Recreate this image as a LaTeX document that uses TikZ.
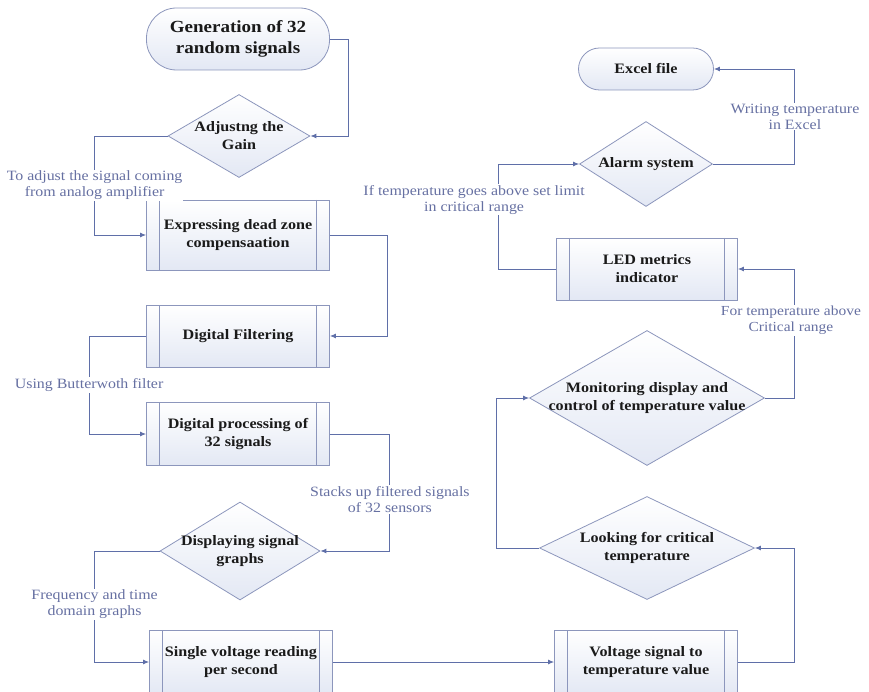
\documentclass[tikz,border=0pt]{standalone}
\usepackage{fontspec}
\setmainfont{Liberation Serif}[FakeStretch=1.12]
\usetikzlibrary{shapes.geometric,arrows.meta}
\definecolor{linec}{HTML}{5F6FA8}
\definecolor{lblc}{HTML}{6670A2}
\definecolor{bordc}{HTML}{8C96BC}
\definecolor{fillc}{HTML}{E3E8F4}
\definecolor{txtc}{HTML}{1A1A1A}
\tikzset{
  base/.style={draw=bordc, line width=0.8pt, top color=white, bottom color=fillc, text=txtc,
    font=\fontsize{14.4}{18}\selectfont\bfseries, align=center, inner sep=0pt},
  term/.style={base, rounded corners=#1},
  procbox/.style={base, minimum width=183pt, minimum height=63pt,
    path picture={
      \draw[bordc, line width=0.8pt] ([xshift=13pt]path picture bounding box.north west) -- ([xshift=13pt]path picture bounding box.south west);
      \draw[bordc, line width=0.8pt] ([xshift=-13pt]path picture bounding box.north east) -- ([xshift=-13pt]path picture bounding box.south east);
    }},
  decis/.style={base, diamond, shape aspect=1.6, inner sep=-14pt},
  conn/.style={draw=linec, line width=0.9pt, -{Latex[length=6pt,width=5pt]}},
  lbl/.style={fill=white, text=lblc, font=\fontsize{14.2}{16}\selectfont, align=center, inner sep=1pt}
}
\begin{document}
\begin{tikzpicture}[x=1pt,y=-1pt]
\useasboundingbox (0,0) rectangle (869,692);
% nodes
\node[term=30pt, minimum width=183pt, minimum height=62pt, font=\fontsize{17}{21}\selectfont\bfseries] (start) at (238,39) {Generation of 32\\random signals};
\node[term=21pt, minimum width=135pt, minimum height=42pt] (excel) at (646,69) {Excel file};
\node[decis, minimum width=142pt, minimum height=83pt] (adj) at (239,136) {Adjustng the\\Gain};
\node[procbox, minimum height=70pt] (dead) at (238,235) {Expressing dead zone\\compensaation};
\node[procbox, minimum height=62pt] (filt) at (238,336) {Digital Filtering};
\node[procbox] (proc) at (238,434) {Digital processing of\\32 signals};
\node[decis, minimum width=160pt, minimum height=98pt] (disp) at (240,551) {Displaying signal\\graphs};
\node[procbox, minimum height=64pt] (single) at (241,662) {Single voltage reading\\per second};
\node[procbox, minimum height=64pt] (volt) at (646,662) {Voltage signal to\\temperature value};
\node[decis, minimum width=215pt, minimum height=103pt] (look) at (647,548) {Looking for critical\\temperature};
\node[decis, minimum width=235pt, minimum height=135pt] (mon) at (647,398) {Monitoring display and\\control of temperature value};
\node[procbox, minimum width=181pt, minimum height=62pt] (led) at (647,269) {LED metrics\\indicator};
\node[decis, minimum width=133pt, minimum height=85pt] (alarm) at (646,164) {Alarm system};
% connectors
\draw[conn] (start.east) -- ++(19,0) |- (adj.east);
\draw[conn] (adj.west) -- ++(-73,0) |- node[lbl, pos=0.25] {To adjust the signal coming\\from analog amplifier} (dead.west);
\draw[conn] (dead.east) -- ++(58,0) |- (filt.east);
\draw[conn] (filt.west) -- ++(-57,0) |- node[lbl, pos=0.25] {Using Butterwoth filter} (proc.west);
\draw[conn] (proc.east) -- ++(60,0) |- node[lbl, pos=0.28] {Stacks up filtered signals\\of 32 sensors} (disp.east);
\draw[conn] (disp.west) -- ++(-65,0) |- node[lbl, pos=0.24] {Frequency and time\\domain graphs} (single.west);
\draw[conn] (single.east) -- (volt.west);
\draw[conn] (volt.east) -- ++(57,0) |- (look.east);
\draw[conn] (look.west) -- ++(-43,0) |- (mon.west);
\draw[conn] (mon.east) -- ++(30,0) |- node[lbl, pos=0.3, xshift=-4pt, font=\fontsize{13.8}{16}\selectfont] {For temperature above\\Critical range} (led.east);
\draw[conn] (led.west) -- ++(-58,0) |- node[lbl, pos=0.33, xshift=-24pt] {If temperature goes above set limit\\in critical range} (alarm.west);
\draw[conn] (alarm.east) -- ++(82,0) |- node[lbl, pos=0.25] {Writing temperature\\in Excel} (excel.east);
\end{tikzpicture}
\end{document}
